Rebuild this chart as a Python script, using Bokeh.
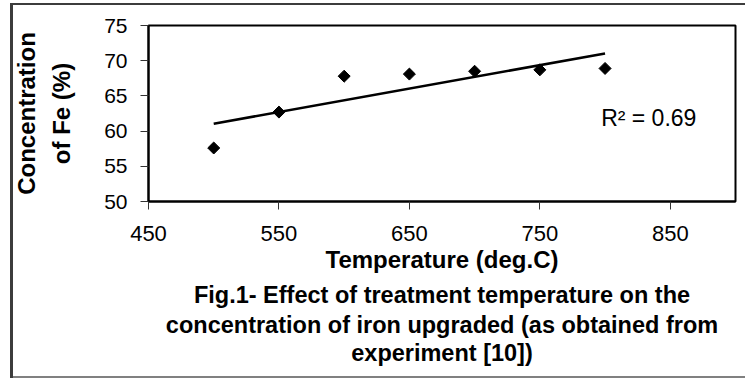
import numpy as np
from bokeh.plotting import figure
from bokeh.models import Range1d, FixedTicker, Label, Title, ColumnDataSource
from bokeh.embed import file_html
from bokeh.resources import INLINE

# ---- data ----
temperature = [500, 550, 600, 650, 700, 750, 800]
fe_conc = [57.6, 62.7, 67.8, 68.1, 68.5, 68.7, 68.9]
x_ticks = [450, 550, 650, 750, 850]
y_ticks = [50, 55, 60, 65, 70, 75]
r2_text = "R\u00b2 = 0.69"
x_title = "Temperature (deg.C)"
y_title = "Concentration\nof Fe (%)"
caption = [
    "Fig.1- Effect of treatment temperature on the",
    "concentration of iron upgraded (as obtained from",
    "experiment [10])",
]

FONT = "Liberation Sans"
W, H = 745, 383

p = figure(width=W, height=H, output_backend="svg", toolbar_location=None,
           x_range=Range1d(450, 900), y_range=Range1d(50, 75),
           min_border_left=148, min_border_right=10, min_border_top=25,
           min_border_bottom=182)
p.background_fill_color = "white"
p.border_fill_color = None
p.outline_line_color = "black"
p.outline_line_width = 2
p.grid.visible = False

# outer frame of the figure (drawn as the page element's background)
p.styles = {
    "background": (
        "linear-gradient(#3c3c3c,#3c3c3c) 10px 3px / 3px 375px no-repeat, "
        "linear-gradient(#3c3c3c,#3c3c3c) 10px 3px / 740px 2px no-repeat, "
        "linear-gradient(#808080,#808080) 10px 376px / 740px 2px no-repeat, "
        "#ffffff"
    )
}

for ax in (p.xaxis[0], p.yaxis[0]):
    ax.axis_line_color = "black"
    ax.axis_line_width = 2
    ax.major_tick_line_color = "#333333"
    ax.major_tick_line_width = 1
    ax.major_tick_out = 8
    ax.major_tick_in = 0
    ax.minor_tick_line_color = None
    ax.major_label_text_font = FONT
    ax.major_label_text_color = "black"
    ax.axis_label_text_font = FONT
    ax.axis_label_text_font_style = "bold"
    ax.axis_label_text_color = "black"

p.xaxis.ticker = FixedTicker(ticks=x_ticks)
p.yaxis.ticker = FixedTicker(ticks=y_ticks)
p.xaxis.major_label_text_font_size = "22px"
p.yaxis.major_label_text_font_size = "21px"
p.xaxis.major_label_standoff = 16
p.yaxis.major_label_standoff = 13
p.xaxis.axis_label = x_title
p.yaxis.axis_label = y_title
p.xaxis.axis_label_text_font_size = "24px"
p.yaxis.axis_label_text_font_size = "24px"
p.xaxis.axis_label_standoff = 2
p.yaxis.axis_label_standoff = 26
p.yaxis.axis_label_text_line_height = 1.3

# trendline (linear fit)
coef = np.polyfit(temperature, fe_conc, 1)
tx = [min(temperature), max(temperature)]
ty = [coef[0] * v + coef[1] for v in tx]
p.line(tx, ty, line_color="black", line_width=2.6)

src = ColumnDataSource(dict(x=temperature, y=fe_conc))
p.scatter("x", "y", source=src, marker="square", angle=np.pi / 4, size=8.5,
          fill_color="black", line_color="black")

p.add_layout(Label(x=797, y=61.8, text=r2_text, text_font=FONT,
                   text_font_size="23px", text_color="black",
                   text_baseline="middle"))

for i, line in enumerate(caption):
    p.add_layout(Title(text=line, align="center", text_font=FONT,
                       text_font_size="23.5px", text_font_style="bold",
                       text_color="black",
                       vertical_align="bottom" if i == 0 else "top",
                       standoff=8 if i == 0 else 0, offset=0), "below")

open("out.html", "w").write(file_html(p, INLINE))
